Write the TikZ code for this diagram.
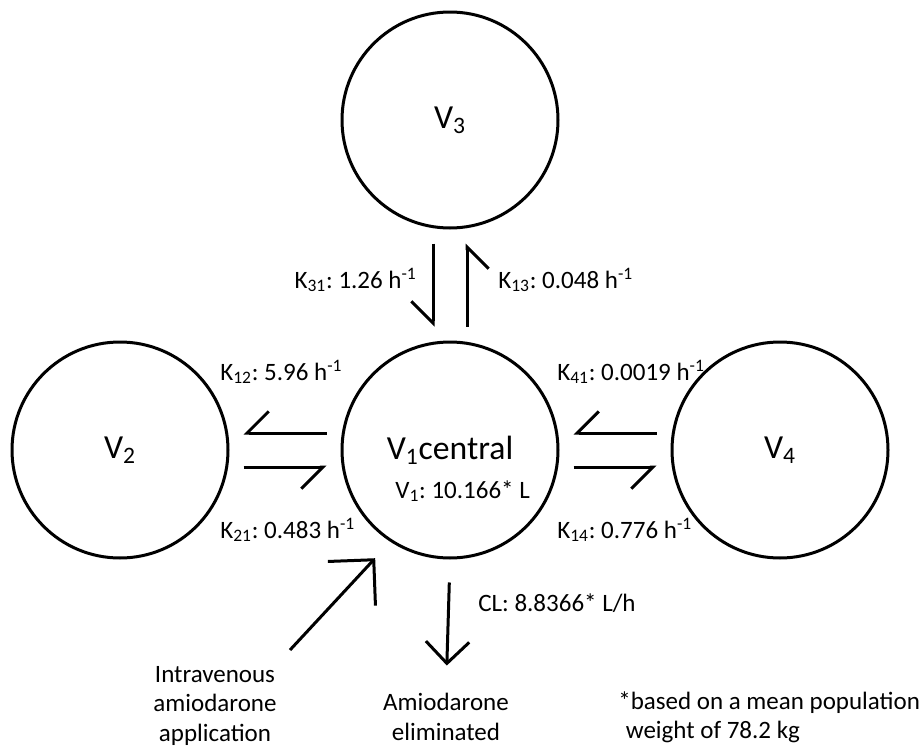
\documentclass[tikz,border=0pt]{standalone}
\usepackage{fontspec}
\setmainfont{Carlito}
\usetikzlibrary{arrows.meta}
\usetikzlibrary{calc}
\frenchspacing

\begin{document}
\begin{tikzpicture}[x=0.6pt, y=-0.6pt,
        comp/.style={draw, circle, line width=1.8pt, minimum size=129.6pt, inner sep=0pt, font=\fontsize{20.2}{24}\selectfont},
        rate/.style={inner sep=0pt, font=\fontsize{15}{17.7}\selectfont},
        note/.style={inner sep=0pt, align=center, font=\fontsize{15}{17.7}\selectfont},
        flow/.style={line width=1.8pt, -{Straight Barb[harpoon, swap, length=13pt, width=26pt]}, shorten <=8.4pt, shorten >=8.4pt},
        outflow/.style={line width=1.8pt, -{Straight Barb[length=13pt, width=26pt]}},
        inflow/.style={line width=1.8pt, -{Straight Barb[length=19.5pt, width=39pt]}}]
        \useasboundingbox (0,0) rectangle (922,747);

        % Compartments
        \node[comp] (v3) at (450,120) {V\textsubscript{3}};
        \node[comp] (v1) at (450,450) {V\textsubscript{1}central};
        \node[comp] (v2) at (120,450) {\raisebox{-4.8pt}{V\textsubscript{2}}};
        \node[comp] (v4) at (780,450) {V\textsubscript{4}};
        \node[rate, anchor=base west] (vol) at (395,498) {V\textsubscript{1}: 10.166* L};

        % Exchange V1 <-> V3
        \draw[flow] ($(v3.south)+(-17,0)$) -- ($(v1.north)+(-17,0)$);
        \draw[flow] ($(v1.north)+(17,0)$) -- ($(v3.south)+(17,0)$);
        \node[rate, anchor=base east] (k31) at (417,288) {K\textsubscript{31}: 1.26 h\textsuperscript{-1}};
        \node[rate, anchor=base west] (k13) at (498,288) {K\textsubscript{13}: 0.048 h\textsuperscript{-1}};

        % Exchange V1 <-> V2
        \draw[flow] ($(v1.west)+(0,-17)$) -- ($(v2.east)+(0,-17)$);
        \draw[flow] ($(v2.east)+(0,17)$) -- ($(v1.west)+(0,17)$);
        \node[rate, anchor=base west] (k12) at (220,380) {K\textsubscript{12}: 5.96 h\textsuperscript{-1}};
        \node[rate, anchor=base west] (k21) at (220,538) {K\textsubscript{21}: 0.483 h\textsuperscript{-1}};

        % Exchange V1 <-> V4
        \draw[flow] ($(v4.west)+(0,-17)$) -- ($(v1.east)+(0,-17)$);
        \draw[flow] ($(v1.east)+(0,17)$) -- ($(v4.west)+(0,17)$);
        \node[rate, anchor=base west] (k41) at (557,380) {K\textsubscript{41}: 0.0019 h\textsuperscript{-1}};
        \node[rate, anchor=base west] (k14) at (557,538) {K\textsubscript{14}: 0.776 h\textsuperscript{-1}};

        % Application and elimination
        \node[note, anchor=north] (iv) at (215,666) {Intravenous\\amiodarone\\application};
        \node[note, anchor=north] (elim) at (446,693) {Amiodarone\\eliminated};
        \node[note, anchor=north west, align=left] (based) at (618,691) {*based on a mean population\\\hspace{0.3em}weight of 78.2 kg};
        \coordinate (ivtail) at (290,650);
        \draw[inflow, shorten >=13.4pt] (ivtail) -- (v1.237);
        \draw[outflow, shorten <=13.8pt, shorten >=16.5pt] (v1.south) -- (elim.north);
        \node[rate, anchor=base west] (cl) at (478,611) {CL: 8.8366* L/h};
\end{tikzpicture}
\end{document}
